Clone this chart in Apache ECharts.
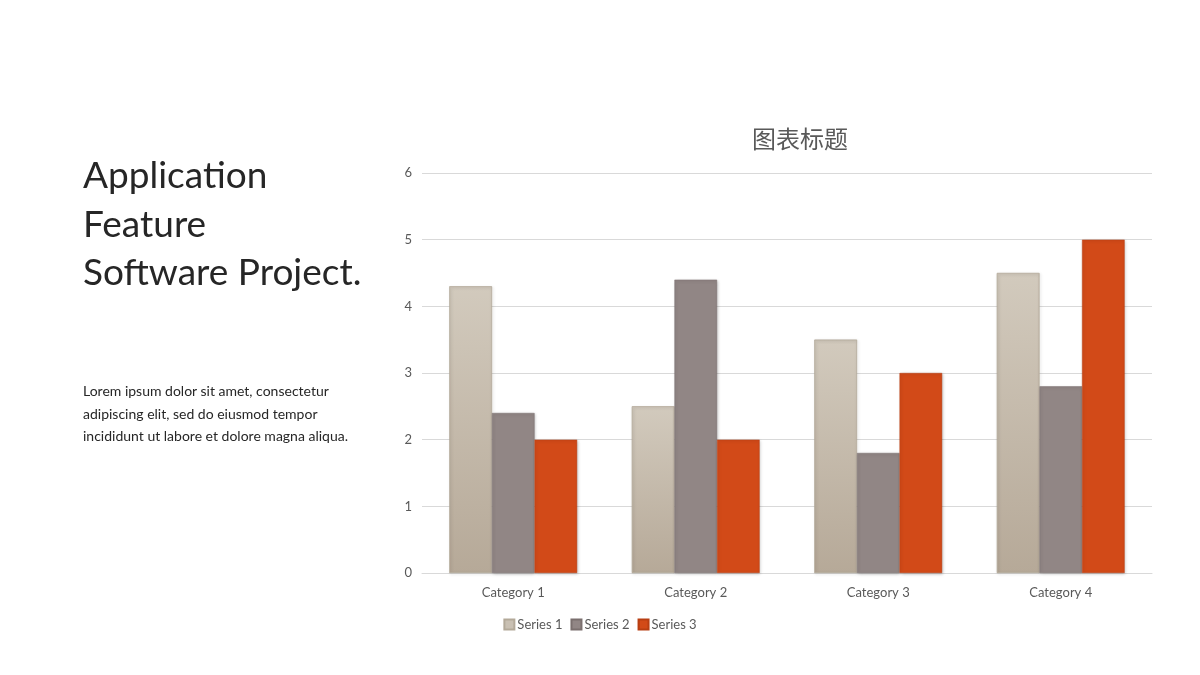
<!DOCTYPE html>
<html>
<head>
<meta charset="utf-8">
<script src="https://cdn.jsdelivr.net/npm/echarts@6/dist/echarts.min.js"></script>
<style>
  body { margin: 0; background: #fff; }
  #main { width: 1200px; height: 675px; position: absolute; left: 0; top: 0; }
  .heading { position: absolute; left: 83px; top: 150px; font-family: Lato, sans-serif; font-size: 37px; line-height: 48.5px; color: #262626; }
  .para { position: absolute; left: 83px; top: 380px; font-family: Lato, sans-serif; font-size: 14px; line-height: 22.5px; color: #262626; }
</style>
</head>
<body>
<div id="main"></div>
<div class="heading">Application<br>Feature<br>Software Project.</div>
<div class="para">Lorem ipsum dolor sit amet, consectetur<br>adipiscing elit, sed do eiusmod tempor<br>incididunt ut labore et dolore magna aliqua.</div>
<script>
// 图表数据
var categories = ['Category 1', 'Category 2', 'Category 3', 'Category 4'];
var series1 = [4.3, 2.5, 3.5, 4.5];
var series2 = [2.4, 4.4, 1.8, 2.8];
var series3 = [2, 2, 3, 5];
var seriesNames = ['Series 1', 'Series 2', 'Series 3'];

var chart = echarts.init(document.getElementById('main'));

var barShadow = { shadowColor: 'rgba(0,0,0,0.25)', shadowBlur: 3, shadowOffsetX: 1, shadowOffsetY: 1 };

var option = {
	title : {
		text : '图表标题',
		left : 795,
		textAlign : 'center',
		top : 122,
		textStyle : { fontFamily : 'Noto Sans CJK SC', fontSize : 24, fontWeight : 'normal', color : '#595959' }
	},
	legend : {
		data : seriesNames,
		left : 'center',
		top : 618,
		itemWidth : 10,
		itemHeight : 10,
		itemGap : 8,
		icon : 'rect',
		textStyle : { fontFamily : 'Lato', fontSize : 13, color : '#595959', padding : [0, 0, 0, -2] },
		padding : [0, 0, 0, 205]
	},
	grid : { left : 422, right : 48, top : 173, bottom : 102 },
	xAxis : {
		type : 'category',
		data : categories,
		axisLine : { lineStyle : { color : '#d9d9d9' } },
		axisTick : { show : false },
		axisLabel : { fontFamily : 'Lato', fontSize : 13, color : '#595959', margin : 13 }
	},
	yAxis : {
		type : 'value',
		min : 0,
		max : 6,
		interval : 1,
		axisLine : { show : false },
		axisTick : { show : false },
		axisLabel : { fontFamily : 'Lato', fontSize : 13, color : '#595959', margin : 10 },
		splitLine : { lineStyle : { color : '#d9d9d9' } }
	},
	series : [
		{
			name : seriesNames[0],
			type : 'bar',
			data : series1,
			barGap : '0%',
			barCategoryGap : '30%',
			itemStyle : Object.assign({
				color : new echarts.graphic.LinearGradient(0, 0, 0, 1, [
					{ offset : 0, color : '#d2cabd' },
					{ offset : 1, color : '#b6a998' }
				]),
				borderColor : '#b3a999', borderWidth : 0.5
			}, barShadow)
		},
		{
			name : seriesNames[1],
			type : 'bar',
			data : series2,
			itemStyle : Object.assign({ color : '#918685', borderColor : '#7a6f6e', borderWidth : 0.5 }, barShadow)
		},
		{
			name : seriesNames[2],
			type : 'bar',
			data : series3,
			itemStyle : Object.assign({ color : '#d24a18', borderColor : '#b83e12', borderWidth : 0.5 }, barShadow)
		}
	]
};
option.legend.padding = 0;
option.legend.data = [
	{ name : seriesNames[0], itemStyle : { color : '#c9c0b3' } },
	{ name : seriesNames[1] },
	{ name : seriesNames[2] }
];
chart.setOption(option);
</script>
</body>
</html>
